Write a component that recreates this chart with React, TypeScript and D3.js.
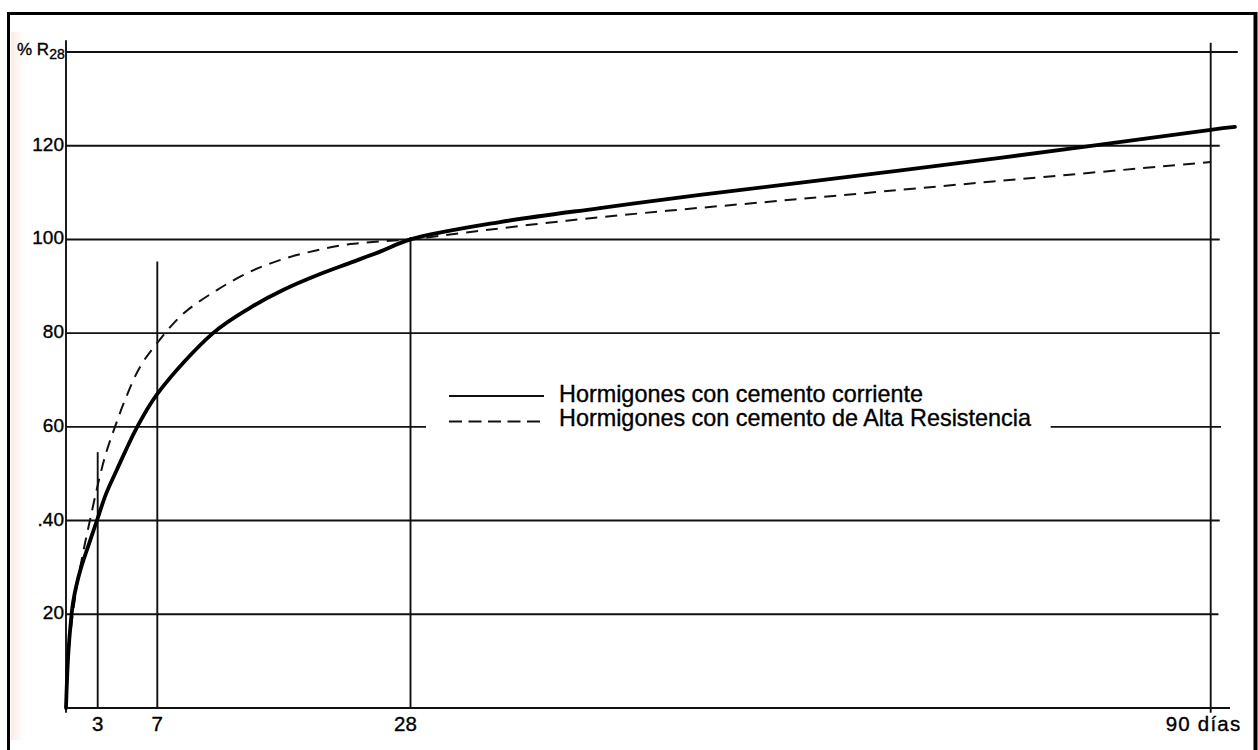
import React from "react";
import * as d3 from "d3";

// ---- data ----
const xTickDays = [3, 7, 28, 90];
const xTickLabels = ["3", "7", "28", "90 días"];
const yTickValues = [20, 40, 60, 80, 100, 120];
const yTickLabels = ["20", ".40", "60", "80", "100", "120"];
const verticalTops = [54.6, 95.3, 100.5, 142];

// Hormigones con cemento corriente (solid)
const normalDays = [0, 0.095, 0.24, 0.43, 0.66, 0.99, 1.42, 2.08, 2.91, 3.56, 4.28, 5.62, 7.05, 11.62, 14.69, 17.43, 20.5, 22.99, 25.48, 28, 34.93, 42.68, 50.43, 62.05, 73.68, 90, 91.88];
const normalPct = [0, 6.0, 12.4, 17.7, 22.4, 26.2, 29.9, 34.4, 39.9, 45.7, 50.8, 59.8, 67.2, 80.0, 85.4, 89.2, 92.6, 95.0, 97.4, 100, 103.7, 106.7, 109.5, 113.4, 117.4, 123.4, 124.0];

// Hormigones con cemento de Alta Resistencia (dashed)
const highDays = [0, 0.19, 0.57, 1.04, 1.61, 2.27, 3.02, 3.56, 4.16, 4.83, 5.84, 7.05, 9.13, 11.95, 14.69, 17.43, 20.25, 22.99, 25.73, 28, 32.35, 40.1, 47.85, 55.6, 62.05, 73.68, 90];
const highPct = [0, 10.2, 18.8, 26.2, 33.1, 40.1, 47.8, 54.4, 60.0, 65.7, 72.8, 78.1, 84.1, 89.2, 93.1, 95.8, 97.7, 99.0, 99.6, 100, 101.5, 104.0, 106.1, 108.0, 109.6, 112.5, 116.5];

const legendLabels = [
  "Hormigones con cemento corriente",
  "Hormigones con cemento de Alta Resistencia",
];

// ---- scales ----
const x = d3.scaleLinear().domain([0, 3, 7, 28, 90]).range([66, 97.7, 157.3, 410.5, 1210.7]);
const y = d3.scaleLinear().domain([0, 140]).range([708, 52]);

const line = d3
  .line<[number, number]>()
  .x((d) => x(d[0]))
  .y((d) => y(d[1]))
  .curve(d3.curveCatmullRom.alpha(0.5));

const ink = "#111";
const font = "'Liberation Sans', Arial, Helvetica, sans-serif";

export default function App() {
  const normal = normalDays.map((d, i) => [d, normalPct[i]] as [number, number]);
  const high = highDays.map((d, i) => [d, highPct[i]] as [number, number]);

  const hLines: { v: number; x0: number; x1: number }[] = [
    { v: 140, x0: 0, x1: 92.1 },
    { v: 120, x0: 0, x1: 90.7 },
    { v: 100, x0: 0, x1: 90.7 },
    { v: 80, x0: 0, x1: 90.7 },
    { v: 60, x0: 0, x1: 29.2 },
    { v: 60, x0: 77.6, x1: 90.8 },
    { v: 40, x0: 0, x1: 90.7 },
    { v: 20, x0: 0, x1: 90.6 },
    { v: 0, x0: 0, x1: 91.5 },
  ];

  const txt = { fill: "#000", stroke: "#000", strokeWidth: 0.35 };

  return (
    <svg
      width={1258}
      height={750}
      style={{ position: "absolute", left: 0, top: 0, background: "#fff" }}
      fontFamily={font}
    >
      <defs>
        <linearGradient id="tint" x1="0" x2="1" y1="0" y2="0">
          <stop offset="0" stopColor="#fbe9e1" />
          <stop offset="1" stopColor="#ffffff" stopOpacity="0" />
        </linearGradient>
      </defs>
      <rect x={0} y={0} width={1258} height={750} fill="#fff" />
      <rect x={11} y={32} width={18} height={708} fill="url(#tint)" />

      {/* frame */}
      <line x1={8.5} y1={13.5} x2={1256} y2={13.5} stroke="#000" strokeWidth={3} />
      <line x1={8.5} y1={12} x2={8.5} y2={750} stroke="#000" strokeWidth={3} />
      <line x1={1255.5} y1={12} x2={1255.5} y2={750} stroke="#000" strokeWidth={4} />

      {/* horizontal grid */}
      {hLines.map((h, i) => (
        <line
          key={"h" + i}
          x1={x(h.x0)}
          x2={x(h.x1)}
          y1={y(h.v)}
          y2={y(h.v)}
          stroke={ink}
          strokeWidth={h.v === 0 ? 2.2 : 1.9}
        />
      ))}

      {/* y axis */}
      <line x1={x(0)} x2={x(0)} y1={y(142.5)} y2={y(-1)} stroke={ink} strokeWidth={1.9} />

      {/* verticals */}
      {xTickDays.map((d, i) => (
        <line
          key={"v" + i}
          x1={x(d)}
          x2={x(d)}
          y1={y(verticalTops[i])}
          y2={y(d === 90 ? -1 : 0)}
          stroke={ink}
          strokeWidth={1.9}
        />
      ))}

      {/* curves */}
      <path d={line(high) || ""} fill="none" stroke={ink} strokeWidth={2} strokeDasharray="12 8" />
      <path d={line(normal) || ""} fill="none" stroke="#000" strokeWidth={3.8} strokeLinejoin="round" strokeLinecap="round" />

      {/* y labels */}
      {yTickValues.map((v, i) => (
        <text key={"yl" + i} x={64} y={y(v) + 5} textAnchor="end" fontSize={19} {...txt}>
          {yTickLabels[i]}
        </text>
      ))}
      <text x={17} y={55} fontSize={17} {...txt}>
        % R
        <tspan fontSize={14} dy={3.5}>28</tspan>
      </text>

      {/* x labels */}
      {xTickDays.map((d, i) => (
        <text
          key={"xl" + i}
          x={d === 90 ? x(d) - 45 : d === 28 ? x(d) - 5 : x(d)}
          y={731}
          textAnchor={d === 90 ? "start" : "middle"}
          fontSize={20.5}
          letterSpacing={d === 90 ? 1.2 : 0}
          {...txt}
        >
          {xTickLabels[i]}
        </text>
      ))}

      {/* legend */}
      <line x1={449} x2={544} y1={396} y2={396} stroke={ink} strokeWidth={1.9} />
      <line x1={449} x2={540} y1={421.5} y2={421.5} stroke={ink} strokeWidth={1.9} strokeDasharray="13 6.5" />
      <text x={559} y={401.5} fontSize={23.4} {...txt}>
        {legendLabels[0]}
      </text>
      <text x={559} y={425.5} fontSize={23.4} {...txt}>
        {legendLabels[1]}
      </text>
    </svg>
  );
}
